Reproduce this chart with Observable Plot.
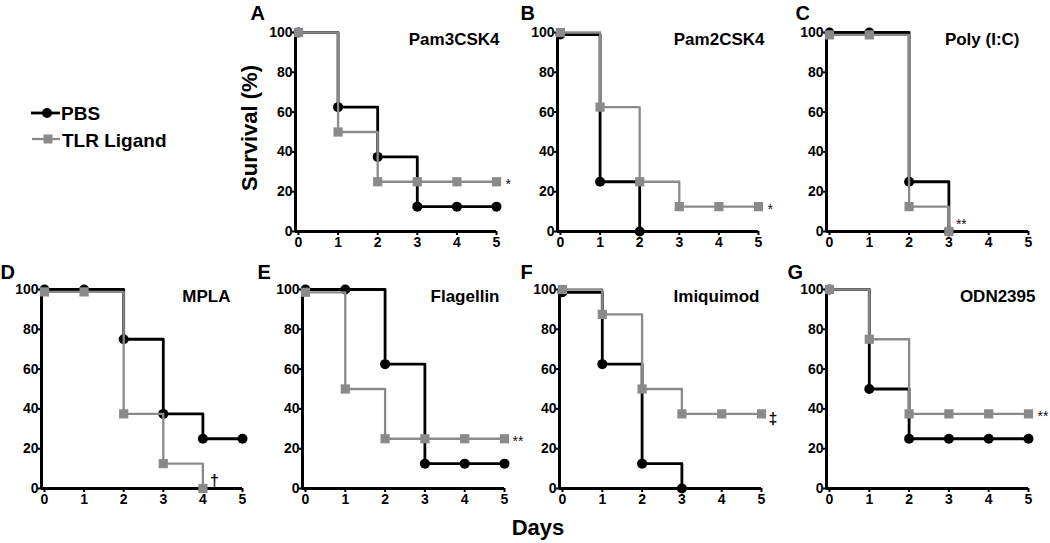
<!DOCTYPE html>
<html><head><meta charset="utf-8">
<script src="https://cdn.jsdelivr.net/npm/d3@7"></script>
<script src="https://cdn.jsdelivr.net/npm/@observablehq/plot@0.6"></script>
<style>
body{margin:0;background:#fff;}
#fig{position:relative;width:1050px;height:543px;overflow:hidden;background:#fff;font-family:"Liberation Sans",Arial,sans-serif;color:#000;}
.panel{position:absolute;}
.panel svg{overflow:visible;}
#days{position:absolute;left:538px;top:517px;transform:translateX(-50%);font-size:22px;line-height:22px;font-weight:bold;white-space:nowrap;}
#legend{position:absolute;left:0;top:95px;}
</style></head><body><div id="fig"></div>
<script>
// ---- data ----
const days = [0, 1, 2, 3, 4, 5];
const yTicks = [0, 20, 40, 60, 80, 100];
const panelLetters = ["A", "B", "C", "D", "E", "F", "G"];
const treatments = ["Pam3CSK4", "Pam2CSK4", "Poly (I:C)", "MPLA", "Flagellin", "Imiquimod", "ODN2395"];
const seriesNames = ["PBS", "TLR Ligand"];
const pbsSurvival = [
  [100, 62.5, 37.5, 12.5, 12.5, 12.5],
  [99, 25, 0],
  [100, 100, 25, 0],
  [100, 100, 75, 37.5, 25, 25],
  [100, 100, 62.5, 12.5, 12.5, 12.5],
  [98.6, 62.5, 12.5, 0],
  [100, 50, 25, 25, 25, 25]
];
const tlrSurvival = [
  [100, 50, 25, 25, 25, 25],
  [100, 62.5, 25, 12.5, 12.5, 12.5],
  [98.8, 98.8, 12.5, 0],
  [98.8, 98.8, 37.5, 12.5, 0],
  [98.6, 50, 25, 25, 25, 25],
  [100, 87.5, 50, 37.5, 37.5, 37.5],
  [100, 75, 37.5, 37.5, 37.5, 37.5]
];
const significance = ["*", "*", "**", "\u2020", "**", "\u2021", "**"];
const xAxisLabel = "Days";
const yAxisLabel = "Survival (%)";

// ---- layout (pixels, styling only) ----
const layout = [
  {L: 295, R: 496, top: 32, bottom: 231, lx: 250, ly: 5, nameDx: 3, sigDx: 9, sigDy: 3, ml: 72},
  {L: 557, R: 758, top: 32, bottom: 231, lx: 520, ly: 5, nameDx: 6, sigDx: 9, sigDy: 3},
  {L: 826, R: 1028, top: 32, bottom: 231, lx: 795, ly: 5, nameDx: -9, sigDx: 7, sigDy: -7},
  {L: 41, R: 242, top: 289, bottom: 488, lx: 0, ly: 264, nameDx: -12, sigDx: 7, sigDy: -8},
  {L: 302, R: 504, top: 289, bottom: 488, lx: 257, ly: 264, nameDx: -5, sigDx: 8, sigDy: 3},
  {L: 559, R: 761, top: 289, bottom: 488, lx: 520, ly: 264, nameDx: -2, sigDx: 7, sigDy: 5},
  {L: 826, R: 1028, top: 289, bottom: 488, lx: 787, ly: 264, nameDx: 7, sigDx: 9, sigDy: 3}
];

const BLACK = "#000";
const GRAY = "#8a8a8a";
const FONT = "'Liberation Sans', Arial, sans-serif";
const X0 = -0.075;

const fig = document.getElementById("fig");

panelLetters.forEach((letter, i) => {
  const p = layout[i];
  const ml = p.ml ?? Math.min(48, p.L);
  const mr = Math.min(24, 1050 - p.R);
  const mt = 34, mb = 24;
  const width = ml + (p.R - p.L) + mr;
  const height = mt + (p.bottom - p.top) + mb;
  const pbs = pbsSurvival[i].map((v, d) => ({day: days[d], value: v}));
  const tlr = tlrSurvival[i].map((v, d) => ({day: days[d], value: v}));
  const last = tlr[tlr.length - 1];
  const isDagger = significance[i] !== "*" && significance[i] !== "**";
  const marks = [
    Plot.ruleX([X0], {y1: 0, y2: 100, stroke: BLACK, strokeWidth: 3}),
    Plot.ruleY([0], {stroke: BLACK, strokeWidth: 3}),
    Plot.axisY({ticks: yTicks, tickFormat: d => String(d), tickSize: 3, tickPadding: 0, fontSize: 14, fontWeight: "bold", label: null, strokeWidth: 2}),
    Plot.axisX({ticks: days, tickFormat: d => String(d), tickSize: 4, tickPadding: 2, fontSize: 14, fontWeight: "bold", label: null, strokeWidth: 2}),
    Plot.line(pbs, {x: "day", y: "value", curve: "step-after", stroke: BLACK, strokeWidth: 2.8}),
    Plot.dot(pbs, {x: "day", y: "value", symbol: "circle", r: 5, fill: BLACK, stroke: "none"}),
    Plot.line(tlr, {x: "day", y: "value", curve: "step-after", stroke: GRAY, strokeWidth: 2.3}),
    Plot.dot(tlr, {x: "day", y: "value", symbol: "square", r: 5.2, fill: GRAY, stroke: "none"}),
    Plot.text([letter], {frameAnchor: "top-left", dx: p.lx - p.L, dy: p.ly - p.top, textAnchor: "start", lineAnchor: "top", fontSize: 20, fontWeight: "bold", fill: BLACK}),
    Plot.text([treatments[i]], {frameAnchor: "top-right", dx: p.nameDx, dy: 0, textAnchor: "end", lineAnchor: "top", fontSize: 17, fontWeight: "bold", fill: BLACK}),
    Plot.text([last], {x: "day", y: "value", text: () => significance[i], dx: p.sigDx, dy: p.sigDy, textAnchor: "start", fontSize: isDagger ? 16 : 14, fontWeight: isDagger ? "bold" : "normal", fill: "#111"})
  ];
  if (i === 0) {
    marks.push(Plot.text([yAxisLabel], {frameAnchor: "left", dx: -46, dy: -4, rotate: -90, textAnchor: "middle", lineAnchor: "middle", fontSize: 22, fontWeight: "bold", fill: BLACK}));
  }
  const chart = Plot.plot({
    width, height,
    marginLeft: ml, marginRight: mr, marginTop: mt, marginBottom: mb,
    style: {background: "transparent", overflow: "visible", fontFamily: FONT, color: BLACK},
    x: {domain: [X0, 5]},
    y: {domain: [0, 100]},
    marks
  });
  const div = document.createElement("div");
  div.className = "panel";
  div.style.left = (p.L - ml) + "px";
  div.style.top = (p.top - mt) + "px";
  div.style.width = width + "px";
  div.style.height = height + "px";
  div.appendChild(chart);
  fig.appendChild(div);
});

// x-axis title
const daysDiv = document.createElement("div");
daysDiv.id = "days";
daysDiv.textContent = xAxisLabel;
fig.appendChild(daysDiv);

// legend
const legend = document.createElement("div");
legend.id = "legend";
legend.innerHTML = `<svg width="200" height="65" xmlns="http://www.w3.org/2000/svg" style="font-family:${FONT};font-weight:bold">
  <line x1="31" x2="60" y1="18" y2="18" stroke="${BLACK}" stroke-width="2.8"/>
  <circle cx="47" cy="18" r="5" fill="${BLACK}"/>
  <text x="61" y="25" font-size="19" fill="${BLACK}">${seriesNames[0]}</text>
  <line x1="32" x2="60" y1="44" y2="44" stroke="${GRAY}" stroke-width="2.3"/>
  <rect x="43.5" y="39.5" width="9" height="9" fill="${GRAY}"/>
  <text x="62" y="52" font-size="19" fill="${BLACK}">${seriesNames[1]}</text>
</svg>`;
fig.appendChild(legend);
</script>
</body></html>
